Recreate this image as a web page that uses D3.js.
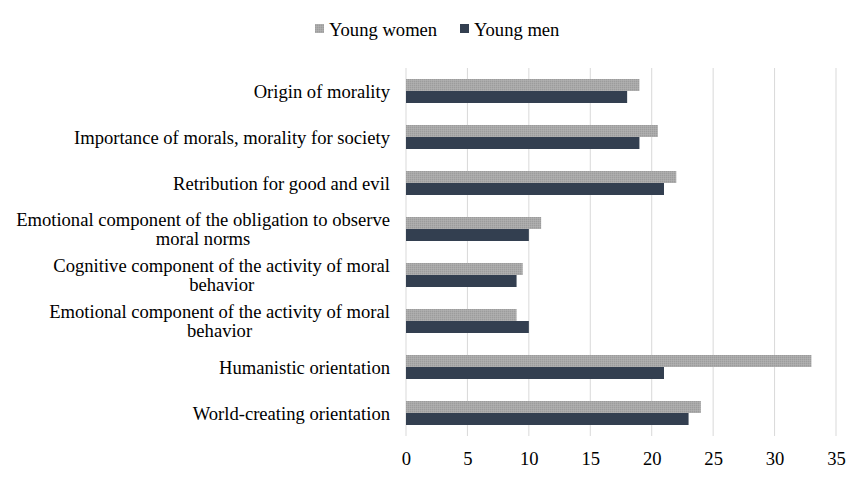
<!DOCTYPE html>
<html>
<head>
<meta charset="utf-8">
<script src="https://cdn.jsdelivr.net/npm/d3@7"></script>
<style>
  body { margin: 0; background: #fff; }
  text { font-family: "Liberation Serif", "Times New Roman", serif; fill: #000; }
</style>
</head>
<body>
<div id="wrapper"></div>
<script>
// categories, top to bottom (line breaks as in the original labels)
const categories = [
  "Origin of morality",
  "Importance of morals, morality for society",
  "Retribution for good and evil",
  "Emotional component of the obligation to observe\nmoral norms",
  "Cognitive component of the activity of moral\nbehavior",
  "Emotional component of the activity of moral\nbehavior",
  "Humanistic orientation",
  "World-creating orientation"
];
const seriesNames = ["Young women", "Young men"];
const youngWomen = [19, 20.5, 22, 11, 9.5, 9, 33, 24];
const youngMen = [18, 19, 21, 10, 9, 10, 21, 23];
const xTicks = [0, 5, 10, 15, 20, 25, 30, 35];

const colors = { "Young women": "url(#womenFill)", "Young men": "#333f50" };
const fontSize = "18.6px";

let dimensions = {
  width: 868,
  height: 480,
  margin: { top: 68, left: 406, bottom: 44, right: 32 }
};
dimensions.boundedWidth = dimensions.width - dimensions.margin.left - dimensions.margin.right;
dimensions.boundedHeight = dimensions.height - dimensions.margin.top - dimensions.margin.bottom;

const data = categories.map((c, i) => ({ cat: c, values: [youngWomen[i], youngMen[i]] }));

let wrapper = d3.select("#wrapper").append("svg")
  .attr("width", dimensions.width)
  .attr("height", dimensions.height);

// dotted texture for the grey bars
const pat = wrapper.append("defs").append("pattern")
  .attr("id", "womenFill")
  .attr("width", 2).attr("height", 2)
  .attr("patternUnits", "userSpaceOnUse");
pat.append("rect").attr("width", 2).attr("height", 2).attr("fill", "#a9a9a9");
pat.append("rect").attr("width", 1).attr("height", 1).attr("fill", "#9c9c9c");
pat.append("rect").attr("x", 1).attr("y", 1).attr("width", 1).attr("height", 1).attr("fill", "#b0b0b0");

let container = wrapper.append("g")
  .attr("transform", `translate(${dimensions.margin.left},${dimensions.margin.top})`);

let xScale = d3.scaleLinear()
  .domain([0, 35])
  .range([0, 430]);

let yScale = d3.scaleBand()
  .domain(categories)
  .range([0, 368])
  .paddingInner(22 / 46)
  .paddingOuter(11 / 46);

let subScale = d3.scaleBand()
  .domain(seriesNames)
  .range([0, yScale.bandwidth()]);

// gridlines
container.append("g")
  .selectAll("line")
  .data(xTicks)
  .enter()
  .append("line")
  .attr("x1", d => xScale(d)).attr("x2", d => xScale(d))
  .attr("y1", 0).attr("y2", 368)
  .attr("stroke", "#d9d9d9")
  .attr("stroke-width", 1);

// bars
const groups = container.selectAll(".cat")
  .data(data)
  .enter()
  .append("g")
  .attr("transform", d => `translate(0,${yScale(d.cat)})`);

groups.selectAll("rect")
  .data(d => d.values.map((v, i) => ({ name: seriesNames[i], value: v })))
  .enter()
  .append("rect")
  .attr("x", xScale(0))
  .attr("y", d => subScale(d.name))
  .attr("width", d => xScale(d.value) - xScale(0))
  .attr("height", subScale.bandwidth())
  .attr("fill", d => colors[d.name]);

// x axis labels
let xAxisGen = d3.axisBottom().scale(xScale).tickValues(xTicks).tickSize(0).tickPadding(16);
const axisX = container.append("g")
  .attr("transform", `translate(0,${368})`)
  .call(xAxisGen);
axisX.select(".domain").remove();
axisX.attr("font-family", null).attr("font-size", null);
axisX.selectAll("text")
  .style("font-size", fontSize)
  .attr("fill", "#000");

// category labels (multi-line centred, block right-aligned)
const labelRight = -16;
const lineH = 19;
groups.each(function (d) {
  const g = d3.select(this);
  const lines = d.cat.split("\n");
  const t = g.append("text")
    .style("font-size", fontSize)
    .attr("text-anchor", "middle");
  const spans = lines.map((l, i) => t.append("tspan")
    .attr("y", yScale.bandwidth() / 2 + (i - (lines.length - 1) / 2) * lineH)
    .attr("dy", "0.35em")
    .text(l));
  const maxW = d3.max(spans, s => s.node().getComputedTextLength());
  spans.forEach(s => s.attr("x", labelRight - maxW / 2));
});

// legend
const legend = wrapper.append("g").attr("transform", "translate(315,29)");
const legendX = [0, 145];
seriesNames.forEach((name, i) => {
  const item = legend.append("g").attr("transform", `translate(${legendX[i]},0)`);
  item.append("rect")
    .attr("x", 0).attr("y", -5)
    .attr("width", 9).attr("height", 9)
    .attr("fill", colors[name]);
  item.append("text")
    .attr("x", 14).attr("y", 0)
    .attr("dy", "0.35em")
    .style("font-size", fontSize)
    .text(name);
});
</script>
</body>
</html>
